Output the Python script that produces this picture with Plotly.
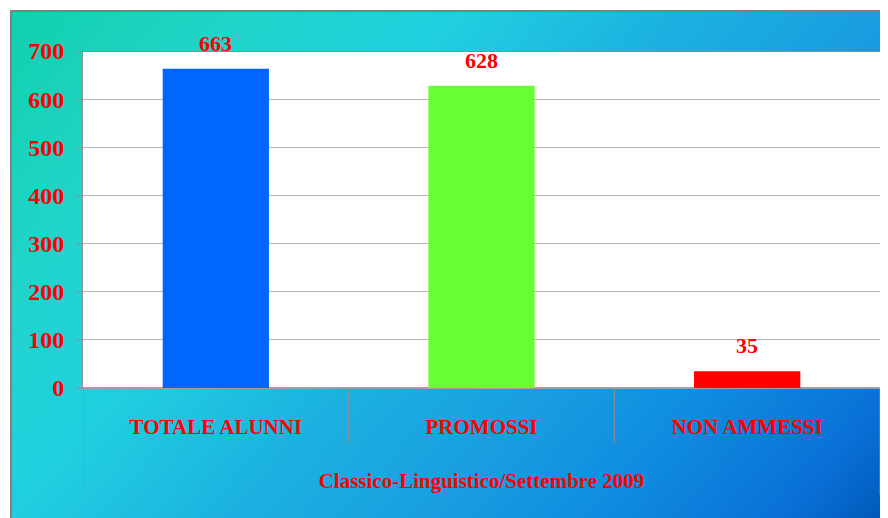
import base64
import plotly.graph_objects as go

# ---- data ----
categories = ["TOTALE ALUNNI", "PROMOSSI", "NON AMMESSI"]
group_label = "Classico-Linguistico/Settembre 2009"
values = [663, 628, 35]
bar_colors = ["#0066FF", "#66FF33", "#FF0000"]
y_ticks = [0, 100, 200, 300, 400, 500, 600, 700]

# ---- layout constants (page body adds an 8px offset) ----
W, H = 880, 510
ML, MR, MT, MB = 75, 8, 43, 130
PW, PH = W - ML - MR, H - MT - MB
FX, FY = 2, 2                      # outer frame corner
FW, FH = W - FX + 10, H - FY + 10  # frame runs off the page on right/bottom
INNER_LINE = 55                    # px below axis for category separators
OUTER_LINE = 107                   # px below axis for group edges

gx1, gy1 = 742, 660
svg = f"""<svg xmlns='http://www.w3.org/2000/svg' width='{FW}' height='{FH}' viewBox='0 0 {FW} {FH}' preserveAspectRatio='none'>
<defs><linearGradient id='g' gradientUnits='userSpaceOnUse' x1='0' y1='0' x2='{gx1}' y2='{gy1}'>
<stop offset='0' stop-color='#10D0AC'/>
<stop offset='0.17' stop-color='#20D4C8'/>
<stop offset='0.34' stop-color='#20CFE0'/>
<stop offset='0.50' stop-color='#1CB2E0'/>
<stop offset='0.66' stop-color='#199DE0'/>
<stop offset='0.78' stop-color='#0F8CE0'/>
<stop offset='0.92' stop-color='#0A70D6'/>
<stop offset='1' stop-color='#0058B8'/>
</linearGradient></defs>
<rect x='1' y='1' width='{FW+4}' height='{FH+4}' fill='url(#g)' stroke='#808080' stroke-width='2'/>
<rect x='{ML-FX}' y='{MT-FY}' width='{PW}' height='{PH}' fill='#FFFFFF'/>
<line x1='{ML-FX}' y1='{MT-FY+0.5}' x2='{ML-FX+PW}' y2='{MT-FY+0.5}' stroke='#8C8C8C' stroke-width='1'/>
</svg>"""
svg_uri = "data:image/svg+xml;base64," + base64.b64encode(svg.encode()).decode()

font_family = "Liberation Serif"
red = "#FF0000"
line_gray = "#909090"

fig = go.Figure(
    go.Bar(
        x=categories,
        y=values,
        marker=dict(color=bar_colors, line=dict(width=0)),
        width=0.4,
        showlegend=False,
    )
)

for i, v in enumerate(values):
    fig.add_annotation(
        x=categories[i], y=v, xref="x", yref="y", text=str(v), showarrow=False,
        yanchor="bottom", yshift=11,
        font=dict(family=font_family, size=22, color=red, weight="bold"),
    )

# category separators below the axis
n = len(categories)
for k in range(n + 1):
    depth = OUTER_LINE if k in (0, n) else INNER_LINE
    fig.add_shape(
        type="line", xref="x", yref="paper",
        x0=k - 0.5, x1=k - 0.5, y0=0, y1=-depth / PH,
        line=dict(color=line_gray, width=1),
    )

fig.add_layout_image(
    source=svg_uri, xref="paper", yref="paper",
    x=(FX - ML) / PW, y=1 + (MT - FY) / PH,
    sizex=FW / PW, sizey=FH / PH,
    xanchor="left", yanchor="top", sizing="stretch", layer="below",
)

fig.update_layout(
    width=W, height=H,
    margin=dict(l=ML, r=MR, t=MT, b=MB, pad=0),
    paper_bgcolor="white", plot_bgcolor="rgba(0,0,0,0)",
    bargap=0.6,
    xaxis=dict(
        type="category", range=[-0.5, n - 0.5],
        showline=True, linecolor="#A0A0A0", linewidth=1,
        ticks="", ticklabelstandoff=20,
        tickfont=dict(family=font_family, size=21, color=red, weight="bold"),
        showgrid=False,
        title=dict(text=group_label, standoff=35,
                   font=dict(family=font_family, size=21, color=red, weight="bold")),
        automargin=False,
    ),
    yaxis=dict(
        range=[0, 700], tickvals=y_ticks,
        showgrid=True, gridcolor="#B4B4B4", gridwidth=1,
        zeroline=True, zerolinecolor="#A0A0A0",
        showline=True, linecolor=line_gray, linewidth=1,
        ticks="outside", ticklen=6, tickcolor=line_gray,
        ticklabelstandoff=7,
        tickfont=dict(family=font_family, size=24, color=red, weight="bold"),
        automargin=False,
    ),
)

fig.write_html("out.html")
